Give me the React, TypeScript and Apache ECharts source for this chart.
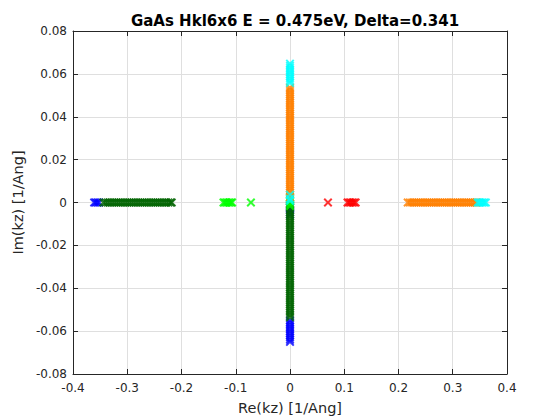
import React, { useEffect, useRef } from "react";
import * as echarts from "echarts";

const titleText = "GaAs Hkl6x6 E = 0.475eV, Delta=0.341";
const xName = "Re(kz) [1/Ang]";
const yName = "Im(kz) [1/Ang]";

// Real solutions (Im = 0) and imaginary solutions (Re = 0) per band
const blueRe = [-0.361, -0.358, -0.355, -0.352];
const blueIm = [-0.0650, -0.0640, -0.0630, -0.0620, -0.0610, -0.0600, -0.0590, -0.0580, -0.0570, -0.0560, -0.0550, -0.0057, -0.0045, -0.0033, -0.0022, -0.0014];

const darkGreenRe = [-0.344, -0.340, -0.336, -0.332, -0.328, -0.324, -0.320, -0.316, -0.312, -0.308, -0.304, -0.300, -0.296, -0.292, -0.288, -0.284, -0.280, -0.276, -0.272, -0.268, -0.264, -0.260, -0.256, -0.252, -0.248, -0.244, -0.240, -0.236, -0.232, -0.228, -0.224, -0.220, -0.218];
const darkGreenIm = [-0.0008, -0.0022, -0.0036, -0.0046, -0.0055, -0.0065, -0.0075, -0.0085, -0.0095, -0.0105, -0.0115, -0.0125, -0.0135, -0.0145, -0.0155, -0.0165, -0.0175, -0.0185, -0.0195, -0.0205, -0.0215, -0.0225, -0.0235, -0.0245, -0.0255, -0.0265, -0.0275, -0.0285, -0.0295, -0.0305, -0.0315, -0.0325, -0.0335, -0.0345, -0.0355, -0.0365, -0.0375, -0.0385, -0.0395, -0.0405, -0.0415, -0.0425, -0.0435, -0.0445, -0.0455, -0.0465, -0.0475, -0.0485, -0.0495, -0.0505, -0.0515, -0.0525, -0.0535];

const greenRe = [-0.1226, -0.1198, -0.1170, -0.1142, -0.1114, -0.1086, -0.1068, -0.072];
const greenIm = [0.0024, 0.0012, 0.0004, -0.0006, -0.0016];

const redRe = [0.070, 0.106, 0.109, 0.112, 0.115, 0.118, 0.121];
const redIm: number[] = [];

const orangeRe = [0.217, 0.221, 0.225, 0.229, 0.233, 0.237, 0.241, 0.245, 0.249, 0.253, 0.257, 0.261, 0.265, 0.269, 0.273, 0.277, 0.281, 0.285, 0.289, 0.293, 0.297, 0.301, 0.305, 0.309, 0.313, 0.317, 0.321, 0.325, 0.329, 0.333, 0.337, 0.341, 0.344];
const orangeIm = [0.0535, 0.0525, 0.0515, 0.0505, 0.0495, 0.0485, 0.0475, 0.0465, 0.0455, 0.0445, 0.0435, 0.0425, 0.0415, 0.0405, 0.0395, 0.0385, 0.0375, 0.0365, 0.0355, 0.0345, 0.0335, 0.0325, 0.0315, 0.0305, 0.0295, 0.0285, 0.0275, 0.0265, 0.0255, 0.0245, 0.0235, 0.0225, 0.0215, 0.0205, 0.0195, 0.0185, 0.0175, 0.0165, 0.0155, 0.0145, 0.0135, 0.0125, 0.0115, 0.0105, 0.0095, 0.0085, 0.0075, 0.0065, 0.0056, 0.0046, 0.0036, 0.0024];

const cyanRe = [0.346, 0.349, 0.352, 0.355, 0.358, 0.361];
const cyanIm = [0.0648, 0.0638, 0.0628, 0.0618, 0.0608, 0.0598, 0.0588, 0.0578, 0.0568, 0.0558, 0.0036, 0.0018, 0.0008];

const bands = [
  { name: "b1", color: "#0000ff", re: blueRe, im: blueIm },
  { name: "b2", color: "#006400", re: darkGreenRe, im: darkGreenIm },
  { name: "b3", color: "#00ff00", re: greenRe, im: greenIm },
  { name: "b4", color: "#ff0000", re: redRe, im: redIm },
  { name: "b5", color: "#ff8000", re: orangeRe, im: orangeIm },
  { name: "b6", color: "#00ffff", re: cyanRe, im: cyanIm },
];

const AX = "#262626";
const FONT = "DejaVu Sans";

export default function App() {
  const ref = useRef<HTMLDivElement>(null);
  useEffect(() => {
    if (!ref.current) return;
    const chart = echarts.init(ref.current, undefined, { renderer: "svg" });
    const fmt = (v: number) => (Math.abs(v) < 1e-9 ? "0" : String(+v.toFixed(2)));
    const baseAxis = {
      type: "value" as const,
      axisLine: { show: true, onZero: false, lineStyle: { color: AX, width: 1 } },
      axisTick: { show: true, inside: true, length: 5, lineStyle: { color: AX } },
    };
    chart.setOption({
      animation: false,
      backgroundColor: "#ffffff",
      title: {
        text: titleText,
        left: 290,
        top: 8,
        textAlign: "center",
        textStyle: { fontFamily: FONT, fontSize: 15, fontWeight: "bold", color: "#000" },
      },
      grid: { left: 73, right: 53, top: 31, bottom: 46, show: false },
      xAxis: [
        {
          ...baseAxis,
          position: "bottom",
          min: -0.4,
          max: 0.4,
          interval: 0.1,
          splitLine: { show: true, lineStyle: { color: "#dfdfdf", width: 1 } },
          axisLabel: { fontFamily: FONT, fontSize: 12, color: AX, margin: 8, formatter: fmt },
          name: xName,
          nameLocation: "middle",
          nameGap: 26,
          nameTextStyle: { fontFamily: FONT, fontSize: 14.5, color: AX },
        },
        {
          ...baseAxis,
          position: "top",
          min: -0.4,
          max: 0.4,
          interval: 0.1,
          splitLine: { show: false },
          axisLabel: { show: false },
        },
      ],
      yAxis: [
        {
          ...baseAxis,
          position: "left",
          min: -0.08,
          max: 0.08,
          interval: 0.02,
          splitLine: { show: true, lineStyle: { color: "#dfdfdf", width: 1 } },
          axisLabel: { fontFamily: FONT, fontSize: 12, color: AX, margin: 6, formatter: fmt },
          name: yName,
          nameLocation: "middle",
          nameGap: 45,
          nameRotate: 90,
          nameTextStyle: { fontFamily: FONT, fontSize: 14.5, color: AX },
        },
        {
          ...baseAxis,
          position: "right",
          min: -0.08,
          max: 0.08,
          interval: 0.02,
          splitLine: { show: false },
          axisLabel: { show: false },
        },
      ],
      series: bands.map((b) => ({
        type: "scatter",
        name: b.name,
        xAxisIndex: 0,
        yAxisIndex: 0,
        symbol: "path://M0,0L10,10M0,10L10,0",
        symbolSize: 7.5,
        itemStyle: { color: b.color, borderColor: b.color, borderWidth: 2 },
        emphasis: { disabled: true },
        data: [...b.re.map((r) => [r, 0]), ...b.im.map((i) => [0, i])],
      })),
    });
    return () => chart.dispose();
  }, []);
  return (
    <div
      ref={ref}
      style={{ position: "absolute", left: 0, top: 0, width: 560, height: 420 }}
    />
  );
}
